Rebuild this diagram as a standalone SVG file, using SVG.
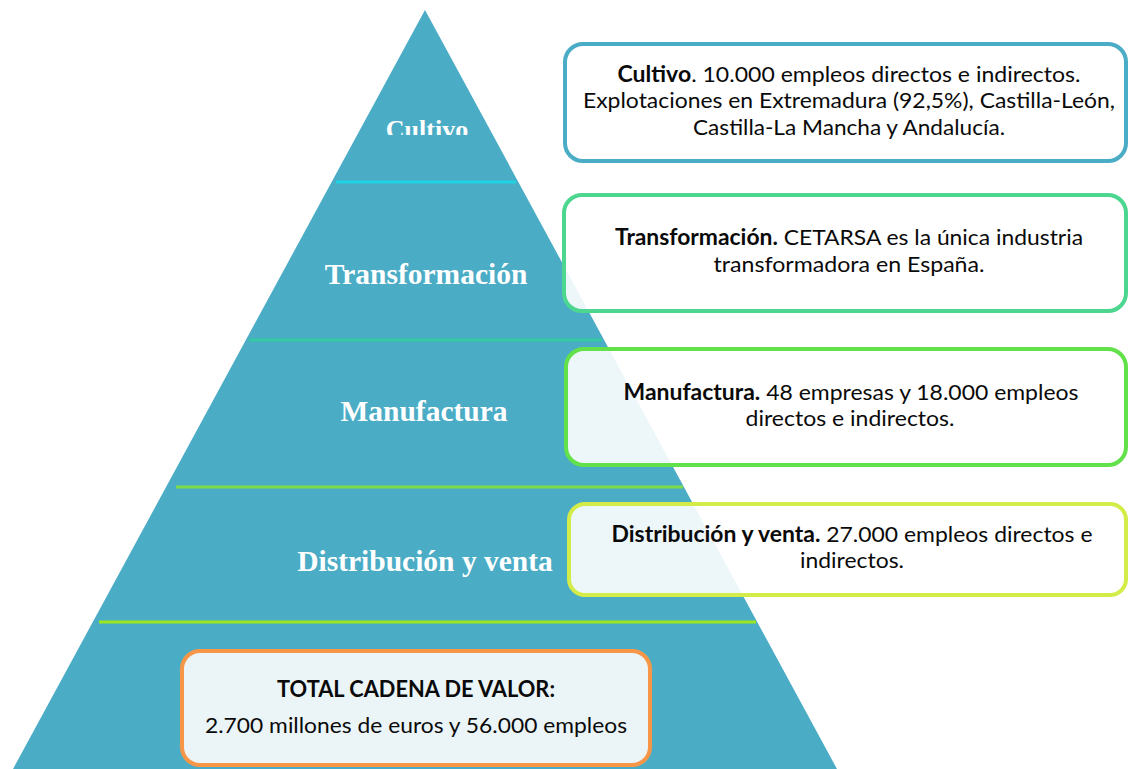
<svg xmlns="http://www.w3.org/2000/svg" width="1128" height="769" viewBox="0 0 1128 769">
<style>
.lvl{font-family:"Liberation Serif",serif;font-weight:bold;fill:#ffffff;text-anchor:middle}
.box{fill:#ffffff;fill-opacity:0.9;stroke-width:4}
.bt{font-family:Lato,"Open Sans",sans-serif;font-size:22px;fill:#0a0a0a;text-anchor:middle}
.b{font-weight:bold}
.div{stroke-width:3}
</style>
<defs>
<clipPath id="clipCult"><rect x="0" y="0" width="1128" height="135"/></clipPath>
</defs>
<rect width="1128" height="769" fill="#ffffff"/>
<g id="pyramid">
<polygon points="425,10 13,769 837,769" fill="#4BACC6"/>
</g>
<g id="dividers">
<line class="div" x1="336" y1="182" x2="516" y2="182" stroke="#1FD3E2"/>
<line class="div" x1="249" y1="340" x2="602" y2="340" stroke="#34C9A2"/>
<line class="div" x1="176" y1="487" x2="683" y2="487" stroke="#7CDB48"/>
<line class="div" x1="99" y1="622" x2="756" y2="622" stroke="#9BE61E"/>
</g>
<g id="level-cultivo">
<text class="lvl" x="427" y="138" font-size="26" clip-path="url(#clipCult)">Cultivo</text>
</g>
<g id="level-transformacion">
<text class="lvl" x="426" y="284" font-size="29.5">Transformación</text>
</g>
<g id="level-manufactura">
<text class="lvl" x="424" y="421" font-size="29.5">Manufactura</text>
</g>
<g id="level-distribucion">
<text class="lvl" x="425" y="571" font-size="29.5">Distribución y venta</text>
</g>
<g id="box-cultivo">
<rect class="box" x="565" y="44" width="561" height="117" rx="18" stroke="#4BACC6"/>
<text class="bt" x="849" y="82" textLength="463" lengthAdjust="spacingAndGlyphs"><tspan class="b">Cultivo</tspan>. 10.000 empleos directos e indirectos.</text>
<text class="bt" x="849" y="108" textLength="532" lengthAdjust="spacingAndGlyphs">Explotaciones en Extremadura (92,5%), Castilla-León,</text>
<text class="bt" x="849" y="135" textLength="312" lengthAdjust="spacingAndGlyphs">Castilla-La Mancha y Andalucía.</text>
</g>
<g id="box-transformacion">
<rect class="box" x="564" y="195" width="562" height="116" rx="18" stroke="#4CD690"/>
<text class="bt" x="849" y="245" textLength="468" lengthAdjust="spacingAndGlyphs"><tspan class="b">Transformación.</tspan> CETARSA es la única industria</text>
<text class="bt" x="849" y="272" textLength="271" lengthAdjust="spacingAndGlyphs">transformadora en España.</text>
</g>
<g id="box-manufactura">
<rect class="box" x="566" y="349" width="560" height="116" rx="18" stroke="#62E14A"/>
<text class="bt" x="851" y="400" textLength="455" lengthAdjust="spacingAndGlyphs"><tspan class="b">Manufactura.</tspan> 48 empresas y 18.000 empleos</text>
<text class="bt" x="850" y="426" textLength="209" lengthAdjust="spacingAndGlyphs">directos e indirectos.</text>
</g>
<g id="box-distribucion">
<rect class="box" x="569" y="504" width="557" height="91" rx="16" stroke="#D4EC48"/>
<text class="bt" x="852" y="542" textLength="481" lengthAdjust="spacingAndGlyphs"><tspan class="b">Distribución y venta.</tspan> 27.000 empleos directos e</text>
<text class="bt" x="852" y="568" textLength="104" lengthAdjust="spacingAndGlyphs">indirectos.</text>
</g>
<g id="box-total">
<rect x="182" y="651" width="468" height="114" rx="18" fill="#EBF5F8" stroke="#F79646" stroke-width="4"/>
<text class="bt b" x="416" y="697" textLength="278" lengthAdjust="spacingAndGlyphs">TOTAL CADENA DE VALOR:</text>
<text class="bt" x="416" y="733" textLength="422" lengthAdjust="spacingAndGlyphs">2.700 millones de euros y 56.000 empleos</text>
</g>
</svg>
